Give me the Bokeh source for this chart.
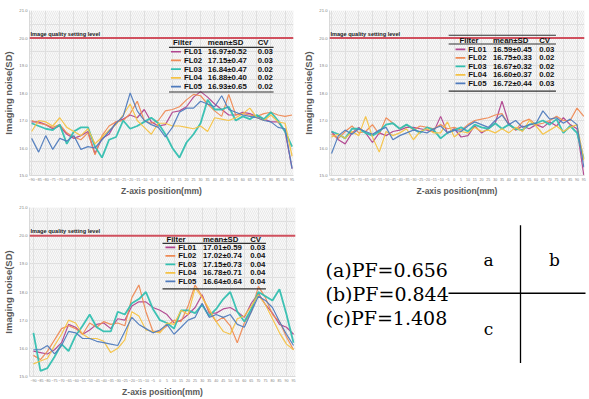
from bokeh.plotting import figure
from bokeh.models import Range1d, FixedTicker, Span, Label, BoxAnnotation, CustomJSTickFormatter
from bokeh.layouts import row, column
from bokeh.embed import file_html
from bokeh.resources import INLINE

# ---------------- data ----------------
z_positions = list(range(-90, 96, 5))          # 38 slice positions (mm)
filters = ["FL01", "FL02", "FL03", "FL04", "FL05"]
colors = ["#b0448e", "#ee8a55", "#33bfb0", "#f4c245", "#4f7bbd"]
y_ticks = [15, 16, 17, 18, 19, 20, 21]
quality_level = 20.0

a_FL01 = [16.95,16.95,16.85,16.70,16.80,16.50,16.35,16.45,16.60,15.80,16.35,16.50,16.95,17.05,17.20,17.10,17.40,16.95,16.80,16.85,17.30,17.35,17.50,17.85,18.05,17.85,17.60,17.40,17.20,17.20,17.30,17.25,17.15,17.05,16.95,16.95,16.60,15.25]
a_FL02 = [17.00,16.90,16.85,16.75,16.85,16.55,16.40,16.30,16.55,15.75,16.45,16.80,16.95,17.00,17.25,17.70,17.00,16.90,17.00,17.35,17.40,17.50,17.75,17.95,17.90,17.60,17.35,17.15,17.95,17.20,17.25,17.20,17.15,17.25,17.30,17.20,17.15,17.20]
a_FL03 = [16.90,16.80,16.70,16.65,16.85,16.15,16.60,16.75,16.75,16.05,15.65,16.30,16.40,17.00,16.70,16.80,16.95,17.10,16.90,16.50,16.00,15.65,16.20,16.50,16.90,17.75,17.40,17.40,17.50,17.00,17.15,17.05,17.20,17.05,17.30,17.00,16.60,16.05]
a_FL04 = [16.60,17.00,16.95,16.80,17.10,16.75,16.60,16.45,16.70,16.15,16.40,16.65,16.85,17.20,17.60,17.00,16.75,16.50,16.90,16.90,16.80,16.80,16.75,16.70,16.80,16.60,17.10,17.05,17.00,17.10,17.25,17.45,17.10,17.00,17.20,16.95,16.90,15.70]
a_FL05 = [16.35,15.85,16.45,15.95,16.35,16.25,16.45,15.95,16.05,16.00,16.30,16.60,16.90,17.15,18.00,17.35,17.00,16.85,16.75,16.40,16.75,17.30,17.45,17.45,17.70,17.60,17.50,17.90,17.40,17.30,17.20,17.15,17.10,17.00,16.95,16.75,16.70,15.25]
a_mean = [16.97, 17.15, 16.84, 16.88, 16.93]
a_sd = [0.52, 0.47, 0.47, 0.40, 0.65]
a_cv = [0.03, 0.03, 0.02, 0.02, 0.02]

b_FL01 = [16.60,16.30,16.15,16.55,16.75,16.55,16.20,16.55,16.45,16.60,16.65,16.75,16.75,16.70,16.65,16.60,17.15,16.55,16.70,16.40,16.45,16.80,16.55,16.70,16.90,17.70,16.90,16.65,16.80,16.70,16.85,16.75,16.95,16.80,17.10,16.85,16.70,15.00]
b_FL02 = [16.50,16.35,16.60,16.80,16.55,16.60,16.85,16.50,17.10,16.90,16.70,16.85,16.65,16.80,16.75,16.70,16.85,16.70,16.75,16.65,16.85,17.00,17.05,17.10,17.20,17.25,16.85,16.65,16.95,17.05,16.85,16.90,17.00,17.15,17.00,17.00,17.45,17.15]
b_FL03 = [16.60,16.50,16.35,16.70,16.70,16.55,16.45,16.60,16.85,16.90,16.70,16.85,16.70,16.55,16.75,16.65,16.35,16.55,16.65,16.75,16.60,16.85,16.75,16.70,16.90,16.70,16.85,16.70,16.65,16.85,16.90,17.00,16.85,17.05,16.55,16.80,16.55,15.60]
b_FL04 = [16.40,16.50,16.35,16.60,16.45,17.15,16.40,15.85,16.60,16.45,16.55,16.70,16.30,16.60,16.70,16.55,16.55,16.95,16.40,16.60,16.55,16.75,16.60,16.65,16.55,16.70,16.55,16.75,16.60,17.00,16.80,16.50,16.65,16.80,16.60,16.75,16.85,15.55]
b_FL05 = [15.80,16.45,16.65,16.50,16.70,16.60,16.50,16.65,16.75,16.30,16.45,16.55,16.65,16.60,16.55,16.70,16.80,16.55,16.65,16.60,16.80,16.95,16.85,16.75,17.00,17.20,16.85,17.00,16.75,16.85,16.90,17.35,17.05,17.10,16.90,17.05,16.85,15.30]
b_mean = [16.59, 16.75, 16.67, 16.60, 16.72]
b_sd = [0.45, 0.33, 0.32, 0.37, 0.44]
b_cv = [0.03, 0.02, 0.02, 0.02, 0.03]

c_FL01 = [15.90,15.85,15.80,15.95,16.20,16.85,16.75,16.50,16.65,16.85,16.90,16.70,17.05,17.00,17.50,17.65,17.65,17.45,17.35,17.20,16.90,17.00,17.20,17.45,17.90,17.25,17.25,17.40,17.45,17.30,17.10,17.60,17.95,17.55,17.25,16.85,16.75,16.50]
c_FL02 = [15.75,15.60,15.90,16.30,16.70,16.80,16.70,16.50,16.90,16.75,16.95,16.85,16.90,16.80,17.80,18.25,17.30,16.60,16.60,16.80,17.00,16.95,17.50,18.25,17.85,17.30,16.95,17.10,16.80,16.20,16.90,17.30,18.20,17.80,17.20,16.95,16.40,15.95]
c_FL03 = [16.55,15.20,15.30,15.70,16.15,15.90,16.45,16.80,17.20,16.75,16.60,16.60,17.30,17.20,17.60,17.75,18.00,17.40,17.00,16.90,16.70,17.35,17.35,17.25,17.55,17.15,17.40,17.75,18.00,17.30,16.95,17.40,18.00,17.85,17.70,18.10,17.20,16.20]
c_FL04 = [15.45,15.55,15.65,16.10,16.50,17.00,16.90,16.50,16.35,16.35,16.25,15.85,16.00,16.30,17.30,17.15,16.65,16.60,16.55,16.90,16.85,17.35,17.20,18.15,17.80,17.40,16.95,16.60,16.50,17.05,17.15,17.50,17.90,17.55,17.05,16.55,16.15,15.95]
c_FL05 = [15.95,15.95,16.10,15.80,16.10,16.60,16.55,16.35,16.35,16.25,16.20,16.15,16.10,16.60,17.10,16.85,16.70,16.55,16.65,16.85,16.50,16.75,17.00,17.10,17.60,17.10,17.20,17.10,17.20,16.85,16.75,17.30,17.85,17.70,17.45,16.95,16.50,16.10]
c_mean = [17.01, 17.02, 17.15, 16.78, 16.64]
c_sd = [0.59, 0.74, 0.73, 0.71, 0.64]
c_cv = [0.03, 0.04, 0.04, 0.04, 0.04]

pf_panels = ["a", "b", "c"]
pf_values = [0.656, 0.844, 1.408]

Y_MIN, Y_MAX = 15.0, 21.0
SANS = "Liberation Sans"


def make_panel(series, means, sds, cvs, W, H, frame, xr, tb):
    fl, ft, fr, fb = frame
    fw, fh = W - fl - fr, H - ft - fb
    p = figure(width=W, height=H, x_range=Range1d(*xr), y_range=Range1d(Y_MIN, Y_MAX),
               output_backend="svg", toolbar_location=None,
               min_border_left=fl, min_border_top=ft, min_border_right=fr, min_border_bottom=fb)
    p.background_fill_color = "#fafafa"
    p.border_fill_color = "white"
    p.outline_line_color = None

    def px(x, y):
        return (xr[0] + (x - fl) / fw * (xr[1] - xr[0]),
                Y_MAX - (y - ft) / fh * (Y_MAX - Y_MIN))

    p.add_layout(BoxAnnotation(left=xr[0], right=xr[1], bottom=Y_MIN, top=Y_MAX,
                               fill_alpha=0, line_color=None, hatch_pattern="\\",
                               hatch_color="#d2d2d2", hatch_alpha=0.9, hatch_scale=4,
                               hatch_weight=0.5, level="underlay"))
    # axes
    p.xaxis.ticker = FixedTicker(ticks=z_positions)
    p.yaxis.ticker = FixedTicker(ticks=y_ticks)
    p.yaxis.formatter = CustomJSTickFormatter(code="return tick.toFixed(1);")
    for ax in (p.xaxis[0], p.yaxis[0]):
        ax.major_tick_out = 0
        ax.major_tick_in = 0
        ax.minor_tick_out = 0
        ax.minor_tick_in = 0
        ax.axis_line_color = "#d9d9d9"
        ax.major_label_text_color = "#808080"
        ax.major_label_text_font = SANS
        ax.axis_label_text_color = "#595959"
        ax.axis_label_text_font = SANS
        ax.axis_label_text_font_style = "bold"
        ax.major_label_standoff = 2
        ax.axis_label_standoff = 2
    p.xaxis.major_label_text_font_size = "3.6px"
    p.yaxis.major_label_text_font_size = "4.2px"
    p.xaxis.axis_label = "Z-axis position(mm)"
    p.yaxis.axis_label = "Imaging noise(SD)"
    p.xaxis.axis_label_text_font_size = "8.5px"
    p.yaxis.axis_label_text_font_size = "9.5px"
    p.xgrid.ticker = FixedTicker(ticks=z_positions[::2])
    p.ygrid.ticker = FixedTicker(ticks=[15 + 0.5 * k for k in range(13)])
    p.xgrid.grid_line_color = "#e2e2e2"
    p.ygrid.grid_line_color = "#e2e2e2"

    for name, vals, col in zip(filters, series, colors):
        p.line(z_positions, vals, line_color=col, line_width=1.8 if name == "FL03" else 1.2,
               line_alpha=0.95)

    # quality level
    p.add_layout(Span(location=quality_level, dimension="width", line_color="#d0505e",
                      line_width=2))
    lx, ly = px(fl + 1, 0)
    p.add_layout(Label(x=lx, y=quality_level, y_offset=1.5, text="Image quality setting level",
                       text_font=SANS, text_font_size="5.6px", text_font_style="bold",
                       text_color="#222222", text_baseline="bottom"))

    # table legend
    def rule(x0, x1, y):
        a0, b0 = px(x0, y - 0.6)
        a1, b1 = px(x1, y + 0.6)
        p.add_layout(BoxAnnotation(left=a0, right=a1, top=b0, bottom=b1, fill_color="#333333",
                                   fill_alpha=1, line_color=None))

    def txt(x, y, s):
        a, b = px(x, y)
        p.add_layout(Label(x=a, y=b, text=s, text_font=SANS, text_font_size="7.8px",
                           text_font_style="bold", text_color="#111111",
                           text_baseline="middle"))

    hy = tb["header_y"]
    txt(tb["filter_x"], hy, "Filter")
    txt(tb["mean_x"], hy, "mean±SD")
    txt(tb["cv_x"], hy, "CV")
    rule(tb["rule_x0"], tb["rule_x1"], tb["header_rule"])
    rule(tb["rule_x0"], tb["rule_x1"], tb["bottom_rule"])
    if tb.get("top_rule") is not None:
        rule(tb["rule_x0"], tb["rule_x1"], tb["top_rule"])
    for k, (name, col, m, s, cv) in enumerate(zip(filters, colors, means, sds, cvs)):
        ry = tb["row_y0"] + k * tb["row_step"]
        a0, b0 = px(tb["sample_x0"], ry - 0.9)
        a1, b1 = px(tb["sample_x1"], ry + 0.9)
        p.add_layout(BoxAnnotation(left=a0, right=a1, top=b0, bottom=b1, fill_color=col,
                                   fill_alpha=1, line_color=None))
        txt(tb["name_x"], ry, name)
        txt(tb["mean_x"], ry, f"{m:.2f}±{s:.2f}")
        txt(tb["cv_x"], ry, f"{cv:.2f}")
    return p


pa = make_panel([a_FL01, a_FL02, a_FL03, a_FL04, a_FL05], a_mean, a_sd, a_cv,
                300, 198, (28, 10, 7, 18), (-91.5, 96.0),
                dict(header_y=43, filter_x=172, mean_x=207, cv_x=257, rule_x0=168, rule_x1=273,
                     header_rule=48, bottom_rule=94, row_y0=52.5, row_step=9,
                     sample_x0=170, sample_x1=180, name_x=183))
pb = make_panel([b_FL01, b_FL02, b_FL03, b_FL04, b_FL05], b_mean, b_sd, b_cv,
                289, 198, (25, 10, 5, 18), (-91.5, 95.5),
                dict(header_y=40.5, filter_x=157, mean_x=191, cv_x=238, rule_x0=146, rule_x1=255,
                     header_rule=44.5, bottom_rule=93, top_rule=35.5, row_y0=50, row_step=8.75,
                     sample_x0=153, sample_x1=163, name_x=166))
pc = make_panel([c_FL01, c_FL02, c_FL03, c_FL04, c_FL05], c_mean, c_sd, c_cv,
                300, 201, (25, 9, 5, 16), (-92.8, 96.4),
                dict(header_y=42, filter_x=164, mean_x=201, cv_x=249, rule_x0=160, rule_x1=265,
                     header_rule=46.3, bottom_rule=93.7, row_y0=50.6, row_step=8.85,
                     sample_x0=163, sample_x1=173, name_x=176))

# ---------------- key panel ----------------
pd_ = figure(width=289, height=201, x_range=Range1d(0, 289), y_range=Range1d(201, 0),
             output_backend="svg", toolbar_location=None, min_border=0,
             x_axis_location=None, y_axis_location=None)
pd_.grid.visible = False
pd_.outline_line_color = None
pd_.background_fill_color = "white"
pd_.segment(x0=[148, 220], y0=[102, 21], x1=[285, 220], y1=[102, 185],
            line_color="black", line_width=1.3)
SERIF = "DejaVu Serif"
for k, (nm, v) in enumerate(zip(pf_panels, pf_values)):
    pd_.add_layout(Label(x=25, y=74.7 + k * 28.2, text=f"({nm})PF={v:.3f}", text_font=SERIF,
                         text_font_size="19px", text_color="black", text_baseline="middle"))
for nm, (x, y) in zip(pf_panels, [(188, 62.7), (254, 62.7), (188, 144.7)]):
    pd_.add_layout(Label(x=x, y=y, text=nm, text_font=SERIF, text_font_size="17px",
                         text_color="black", text_baseline="middle", text_align="center"))

layout = column(row(pa, pb), row(pc, pd_))
open("out.html", "w").write(file_html(layout, INLINE))
